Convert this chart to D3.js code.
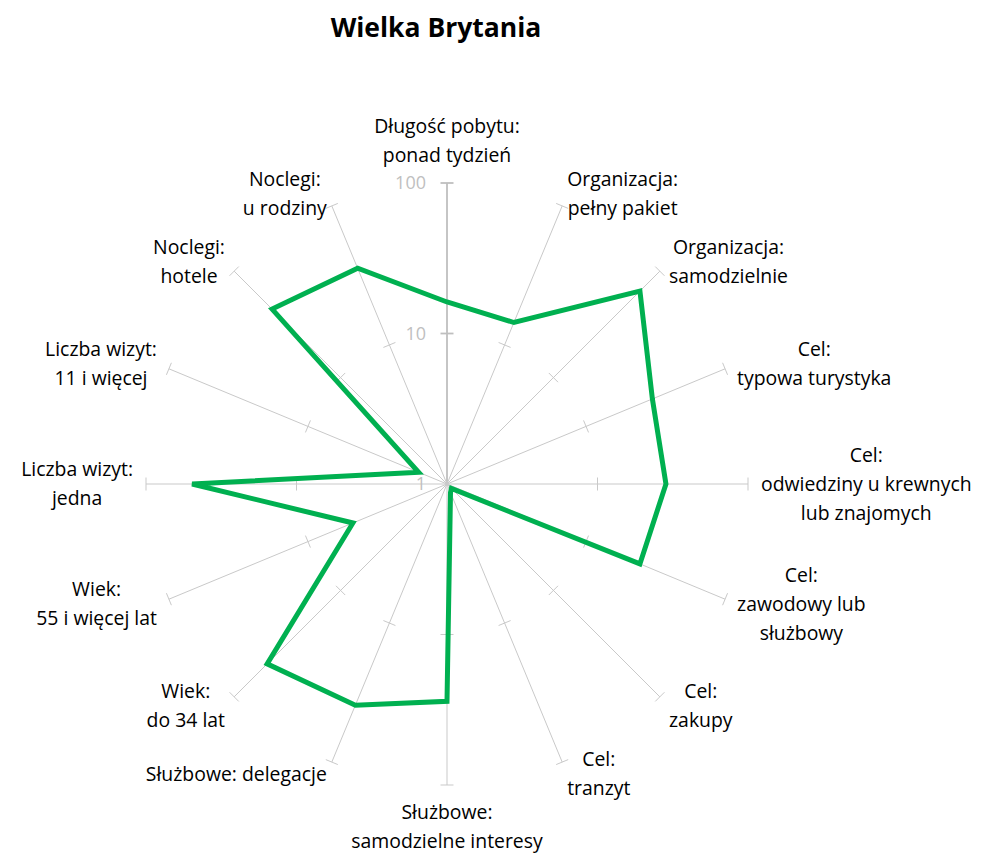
<!DOCTYPE html>
<html>
<head>
<meta charset="utf-8">
<script src="https://cdn.jsdelivr.net/npm/d3@7"></script>
<style>
  body { margin: 0; background: #fff; }
  svg { display: block; }
  .axis-label { font-family: "Open Sans", Lato, sans-serif; font-size: 19.4px; fill: #000; }
  .tick-label { font-family: "Open Sans", Lato, sans-serif; font-size: 18px; fill: #bfbfbf; }
  .chart-title { font-family: "Open Sans", Lato, sans-serif; font-size: 26.5px; font-weight: bold; fill: #000; }
</style>
</head>
<body>
<svg id="chart"></svg>
<script>
// Axis labels (one entry per line), clockwise from the top
const categories = [
  ["Długość pobytu:", "ponad tydzień"],
  ["Organizacja:", "pełny pakiet"],
  ["Organizacja:", "samodzielnie"],
  ["Cel:", "typowa turystyka"],
  ["Cel:", "odwiedziny u krewnych", "lub znajomych"],
  ["Cel:", "zawodowy lub", "służbowy"],
  ["Cel:", "zakupy"],
  ["Cel:", "tranzyt"],
  ["Służbowe:", "samodzielne interesy"],
  ["Służbowe: delegacje"],
  ["Wiek:", "do 34 lat"],
  ["Wiek:", "55 i więcej lat"],
  ["Liczba wizyt:", "jedna"],
  ["Liczba wizyt:", "11 i więcej"],
  ["Noclegi:", "hotele"],
  ["Noclegi:", "u rodziny"]
];

// Values (log scale 1..100)
const values = [16.2, 14.5, 65, 30, 28.5, 24.4, 1.1, 1.15, 27.8, 39, 49, 4.75, 49.4, 1.6, 44, 35.6];

const tickValues = [1, 10, 100];
const titleText = "Wielka Brytania";

class RadarLog {

    constructor(_config, _cats, _vals) {
        this.config = {
            parentElement: _config.parentElement,
            containerWidth: _config.containerWidth || 992,
            containerHeight: _config.containerHeight || 855,
            cx: 447,
            cy: 484,
            radius: 301
        }
        this.cats = _cats;
        this.vals = _vals;
        this.initVis();
    }

    initVis() {
        let vis = this;

        vis.svg = d3.select(vis.config.parentElement)
            .attr('width', vis.config.containerWidth)
            .attr('height', vis.config.containerHeight);

        vis.chart = vis.svg.append('g')
            .attr('transform', `translate(${vis.config.cx},${vis.config.cy})`);

        // radial scale is logarithmic, 1 sits at the centre
        vis.rScale = d3.scaleLog()
            .domain([1, 100])
            .range([0, vis.config.radius])
            .clamp(true);

        vis.angle = d3.scaleLinear()
            .domain([0, vis.cats.length])
            .range([0, 2 * Math.PI]);

        vis.svg.append('text')
            .attr('class', 'chart-title')
            .attr('x', 436)
            .attr('y', 37)
            .attr('text-anchor', 'middle')
            .text(titleText);

        vis.renderVis();
    }

    renderVis() {
        let vis = this;
        const R = vis.config.radius;

        // spokes
        vis.cats.forEach((c, i) => {
            const a = vis.angle(i);
            const sx = Math.sin(a), sy = -Math.cos(a);
            vis.chart.append('line')
                .attr('x1', 0).attr('y1', 0)
                .attr('x2', sx * R).attr('y2', sy * R)
                .attr('stroke', i === 0 ? '#bfbfbf' : '#c9c9c9')
                .attr('stroke-width', i === 0 ? 1.8 : 1);

            // small perpendicular ticks at 10 and 100
            tickValues.slice(1).forEach(t => {
                const r = vis.rScale(t);
                const px = -sy * 6.5, py = sx * 6.5;
                vis.chart.append('line')
                    .attr('x1', sx * r - px).attr('y1', sy * r - py)
                    .attr('x2', sx * r + px).attr('y2', sy * r + py)
                    .attr('stroke', i === 0 ? '#bfbfbf' : '#c9c9c9')
                    .attr('stroke-width', i === 0 ? 1.8 : 1);
            });
        });

        // value labels on the vertical axis
        vis.chart.selectAll('.tick-label')
            .data(tickValues)
            .join('text')
            .attr('class', 'tick-label')
            .attr('x', -21)
            .attr('y', d => -vis.rScale(d))
            .attr('dy', '0.36em')
            .attr('text-anchor', 'end')
            .text(d => d);

        // data polygon
        vis.line = d3.lineRadial()
            .angle((d, i) => vis.angle(i))
            .radius(d => vis.rScale(d))
            .curve(d3.curveLinearClosed);

        vis.chart.append('path')
            .datum(vis.vals)
            .attr('d', vis.line)
            .attr('fill', 'none')
            .attr('stroke', '#00b050')
            .attr('stroke-width', 5)
            .attr('stroke-linejoin', 'miter');

        // category labels, placed like Excel: box touching a point just beyond the spoke end
        const lineH = 29;
        const pad = 13;
        vis.cats.forEach((lines, i) => {
            const a = vis.angle(i);
            const sx = Math.sin(a), sy = -Math.cos(a);
            const ax = sx * (R + pad), ay = sy * (R + pad);

            const g = vis.chart.append('g');
            const texts = lines.map(l => g.append('text')
                .attr('class', 'axis-label')
                .attr('text-anchor', 'middle')
                .text(l));
            const w = d3.max(texts, t => t.node().getComputedTextLength());
            const h = lines.length * lineH;

            let bx;
            if (sx > 0.01) bx = ax + w / 2;
            else if (sx < -0.01) bx = ax - w / 2;
            else bx = ax;

            let top;
            if (Math.abs(sx) < 0.01) top = sy < 0 ? ay - h : ay;
            else top = ay - h / 2;

            texts.forEach((t, k) => {
                t.attr('x', bx)
                 .attr('y', top + lineH * k + lineH / 2)
                 .attr('dy', '0.35em');
            });
        });
    }
}

new RadarLog({ parentElement: '#chart' }, categories, values);
</script>
</body>
</html>
